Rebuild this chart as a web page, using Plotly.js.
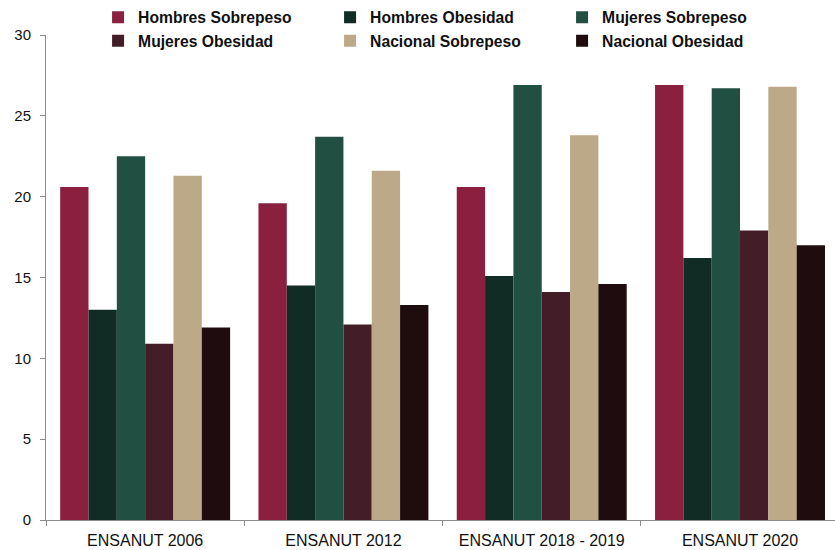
<!DOCTYPE html>
<html>
<head>
<meta charset="utf-8">
<script src="https://cdn.plot.ly/plotly-3.0.1.min.js"></script>
<style>
  html, body { margin: 0; padding: 0; background: #ffffff; }
  #chart { width: 835px; height: 550px; }
</style>
</head>
<body>
<div id="chart"></div>
<script>
// Survey editions on the category axis
const surveys = ["ENSANUT 2006", "ENSANUT 2012", "ENSANUT 2018 - 2019", "ENSANUT 2020"];

// Prevalence (%) per series
const hombresSobrepeso = [20.6, 19.6, 20.6, 26.9];
const hombresObesidad  = [13.0, 14.5, 15.1, 16.2];
const mujeresSobrepeso = [22.5, 23.7, 26.9, 26.7];
const mujeresObesidad  = [10.9, 12.1, 14.1, 17.9];
const nacionalSobrepeso = [21.3, 21.6, 23.8, 26.8];
const nacionalObesidad  = [11.9, 13.3, 14.6, 17.0];

const seriesNames = [
  "Hombres Sobrepeso", "Hombres Obesidad", "Mujeres Sobrepeso",
  "Mujeres Obesidad", "Nacional Sobrepeso", "Nacional Obesidad"
];
const seriesValues = [
  hombresSobrepeso, hombresObesidad, mujeresSobrepeso,
  mujeresObesidad, nacionalSobrepeso, nacionalObesidad
];
const seriesColors = ["#8a1f3f", "#112b25", "#215043", "#431e29", "#bba988", "#1e0c0e"];

const traces = seriesNames.map((name, i) => ({
  type: "bar",
  name: name,
  x: surveys,
  y: seriesValues[i],
  marker: { color: seriesColors[i], line: { width: 0 } },
  hoverinfo: "x+y+name"
}));

const layout = {
  width: 835,
  height: 550,
  paper_bgcolor: "#ffffff",
  plot_bgcolor: "#ffffff",
  margin: { l: 46, r: 0, t: 35, b: 30, pad: 0 },
  barmode: "group",
  bargap: 0.143,
  bargroupgap: 0,
  font: { family: "Liberation Sans, Arial, sans-serif", color: "#1a1a1a", size: 14 },
  showlegend: true,
  legend: {
    orientation: "h",
    xref: "paper", yref: "paper",
    x: 0.066, xanchor: "left",
    y: 1.071, yanchor: "top",
    entrywidth: 187, entrywidthmode: "pixels",
    font: { family: "Liberation Sans, Arial, sans-serif", size: 15.7, color: "#111111", weight: "bold" },
    itemwidth: 30,
    bgcolor: "rgba(0,0,0,0)",
    traceorder: "normal"
  },
  xaxis: {
    type: "category",
    range: [-0.5, 3.479],
    showline: true,
    linecolor: "#8c8c8c",
    linewidth: 1,
    ticks: "outside",
    tickson: "boundaries",
    ticklen: 5,
    tickcolor: "#8c8c8c",
    showgrid: false,
    zeroline: false,
    tickfont: { size: 16, color: "#111111" },
    ticklabelstandoff: 6,
    fixedrange: true
  },
  yaxis: {
    range: [0, 30],
    tickvals: [0, 5, 10, 15, 20, 25, 30],
    showline: true,
    linecolor: "#8c8c8c",
    linewidth: 1,
    ticks: "outside",
    ticklen: 5,
    tickcolor: "#8c8c8c",
    showgrid: false,
    zeroline: false,
    tickfont: { size: 15, color: "#111111" },
    ticklabelstandoff: 6,
    fixedrange: true
  }
};

Plotly.newPlot("chart", traces, layout, { displayModeBar: false, staticPlot: true });
</script>
</body>
</html>
